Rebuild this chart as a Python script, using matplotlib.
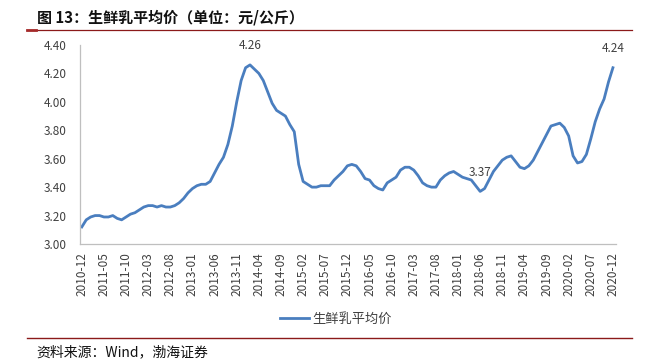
import matplotlib
matplotlib.use("Agg")
import matplotlib.pyplot as plt
import pandas as pd

plt.rcParams['font.family'] = ['Noto Sans CJK SC', 'DejaVu Sans']

# 生鲜乳平均价, monthly 2010-12 .. 2020-12 (元/公斤)
months = pd.date_range("2010-12-01", "2020-12-01", freq="MS").strftime("%Y-%m").tolist()
price = [
    3.12, 3.17, 3.19, 3.20, 3.20, 3.19, 3.19, 3.20, 3.18, 3.17,
    3.19, 3.21, 3.22, 3.24, 3.26, 3.27, 3.27, 3.26, 3.27, 3.26,
    3.26, 3.27, 3.29, 3.32, 3.36, 3.39, 3.41, 3.42, 3.42, 3.44,
    3.50, 3.56, 3.61, 3.70, 3.83, 4.00, 4.15, 4.24, 4.26, 4.23,
    4.20, 4.15, 4.07, 3.99, 3.94, 3.92, 3.90, 3.84, 3.79, 3.56,
    3.44, 3.42, 3.40, 3.40, 3.41, 3.41, 3.41, 3.45, 3.48, 3.51,
    3.55, 3.56, 3.55, 3.51, 3.46, 3.45, 3.41, 3.39, 3.38, 3.43,
    3.45, 3.47, 3.52, 3.54, 3.54, 3.52, 3.48, 3.43, 3.41, 3.40,
    3.40, 3.45, 3.48, 3.50, 3.51, 3.49, 3.47, 3.46, 3.45, 3.41,
    3.37, 3.39, 3.45, 3.51, 3.55, 3.59, 3.61, 3.62, 3.58, 3.54,
    3.53, 3.55, 3.59, 3.65, 3.71, 3.77, 3.83, 3.84, 3.85, 3.82,
    3.76, 3.62, 3.57, 3.58, 3.63, 3.74, 3.86, 3.95, 4.02, 4.14,
    4.24,
]
labelled = ["2014-02", "2018-06", "2020-12"]
yticks = [3.00, 3.20, 3.40, 3.60, 3.80, 4.00, 4.20, 4.40]

fig = plt.figure(figsize=(6.46, 3.62), dpi=100)
ax = fig.add_axes([0.1246, 0.326, 0.829, 0.5497])

x = list(range(len(months)))
ax.plot(x, price, color='#4A7EBF', lw=2.0, label='生鲜乳平均价')

for m in labelled:
    i = months.index(m)
    ax.annotate(f"{price[i]:.2f}", (i, price[i]), xytext=(0, 9),
                textcoords='offset points', ha='center', va='bottom',
                fontsize=8.5, color='#404040')

ax.set_xlim(-0.3, len(months) - 0.3)
ax.set_ylim(3.0, 4.4)
ax.set_yticks(yticks)
ax.set_yticklabels([f"{v:.2f}" for v in yticks])
ax.set_xticks(x[::5])
ax.set_xticklabels(months[::5], rotation=90)
ax.tick_params(axis='both', length=0, labelsize=8.5, colors='#404040')
ax.tick_params(axis='y', pad=10)
ax.tick_params(axis='x', pad=6)
for s in ['top', 'right']:
    ax.spines[s].set_visible(False)
for s in ['left', 'bottom']:
    ax.spines[s].set_color('#BFBFBF')
    ax.spines[s].set_linewidth(0.9)

leg = ax.legend(loc='center', bbox_to_anchor=(0.477, -0.377), frameon=False,
                fontsize=9.5, handlelength=2.2, handletextpad=0.3)
for t in leg.get_texts():
    t.set_color('#404040')

fig.text(0.057, 0.953, "图 13：生鲜乳平均价（单位：元/公斤）", fontsize=10.8,
         fontweight='bold', va='center', ha='left', color='#111111')
fig.add_artist(plt.Line2D([0.042, 0.978], [0.917, 0.917], color='#8B1A1A', lw=0.9))
fig.add_artist(plt.Line2D([0.042, 0.055], [0.917, 0.917], color='#A52A2A', lw=2.0))
fig.add_artist(plt.Line2D([0.042, 0.978], [0.066, 0.066], color='#8B1A1A', lw=1.0))
fig.text(0.057, 0.027, "资料来源：Wind，渤海证券", fontsize=10, style='italic',
         va='center', ha='left', color='#111111')

fig.savefig("out.png", dpi=100)
